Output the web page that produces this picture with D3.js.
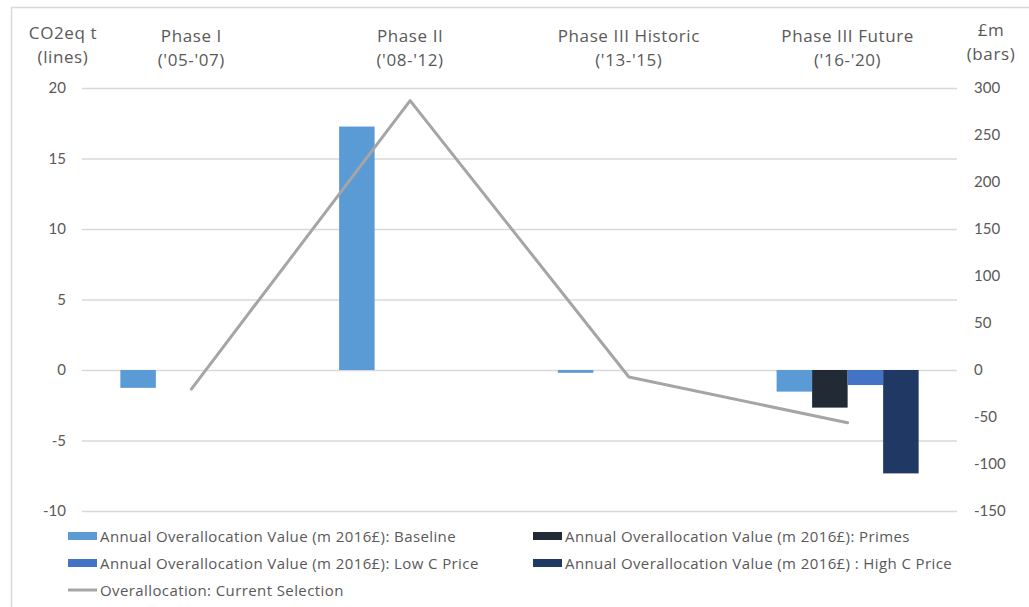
<!DOCTYPE html>
<html>
<head>
<meta charset="utf-8">
<script src="https://cdn.jsdelivr.net/npm/d3@7"></script>
<style>
  html, body { margin: 0; padding: 0; background: #fff; }
  svg text { font-family: "Open Sans", Lato, sans-serif; fill: #595959; }
</style>
</head>
<body>
<svg id="chart" width="1029" height="607"></svg>
<script>
// ---- data ----
const categories = ["Phase I", "Phase II", "Phase III Historic", "Phase III Future"];
const categoryPeriods = ["('05-'07)", "('08-'12)", "('13-'15)", "('16-'20)"];
const seriesNames = [
  "Annual Overallocation Value (m 2016£): Baseline",
  "Annual Overallocation Value (m 2016£): Primes",
  "Annual Overallocation Value (m 2016£): Low C Price",
  "Annual Overallocation Value (m 2016£) : High C Price"
];
const baselineValues = [-19, 259, -3, -23];
const primesValues = [null, null, null, -40];
const lowCValues = [null, null, null, -16];
const highCValues = [null, null, null, -110];
const lineName = "Overallocation: Current Selection";
const lineValues = [-1.35, 19.1, -0.5, -3.74];
const leftTicks = [-10, -5, 0, 5, 10, 15, 20];
const rightTicks = [-150, -100, -50, 0, 50, 100, 150, 200, 250, 300];
const seriesColors = ["#5b9bd5", "#222a35", "#4472c4", "#203864"];
const lineColor = "#a5a5a5";

const barSeries = [baselineValues, primesValues, lowCValues, highCValues];

const svg = d3.select("#chart");

// frame
svg.append("path")
  .attr("d", "M11.5,607 L11.5,7.5 L1029,7.5")
  .attr("fill", "none").attr("stroke", "#d9d9d9").attr("stroke-width", 1.5);

const plotL = 82, plotR = 957, plotT = 88, plotB = 511;

const x = d3.scaleBand().domain(categories).range([plotL, plotR]).paddingInner(0).paddingOuter(0);
const xs = d3.scaleBand().domain(d3.range(seriesNames.length)).range([0, x.bandwidth()]).paddingInner(0).paddingOuter(1.08);
const yL = d3.scaleLinear().domain([-10, 20]).range([plotB, plotT]);
const yR = d3.scaleLinear().domain([-150, 300]).range([plotB, plotT]);

// gridlines
svg.append("g")
  .attr("transform", `translate(${plotL},0)`)
  .call(d3.axisLeft(yL).tickValues(leftTicks).tickSize(-(plotR - plotL)).tickFormat(""))
  .call(g => g.select(".domain").remove())
  .call(g => g.selectAll("line").attr("stroke", "#d9d9d9").attr("stroke-width", 1.3));

// left axis labels
svg.append("g")
  .attr("transform", `translate(66,0)`)
  .call(d3.axisLeft(yL).tickValues(leftTicks).tickSize(0).tickPadding(0).tickFormat(d => String(d)))
  .call(g => g.select(".domain").remove())
  .call(g => g.selectAll("text").style("font-size", "15px").style("font-family", "Lato, sans-serif").attr("fill", "#595959"));

// right axis labels
svg.append("g")
  .attr("transform", `translate(974,0)`)
  .call(d3.axisRight(yR).tickValues(rightTicks).tickSize(0).tickPadding(0).tickFormat(d => String(d)))
  .call(g => g.select(".domain").remove())
  .call(g => g.selectAll("text").style("font-size", "15px").style("font-family", "Lato, sans-serif").attr("fill", "#595959"));

// bars
barSeries.forEach((vals, si) => {
  svg.append("g").selectAll("rect")
    .data(vals.map((v, i) => ({v, c: categories[i]})).filter(d => d.v !== null))
    .join("rect")
    .attr("x", d => x(d.c) + xs(si))
    .attr("width", xs.bandwidth())
    .attr("y", d => Math.min(yR(d.v), yR(0)))
    .attr("height", d => Math.abs(yR(d.v) - yR(0)))
    .attr("fill", seriesColors[si]);
});

// line
const line = d3.line()
  .x((d, i) => x(categories[i]) + x.bandwidth() / 2)
  .y(d => yL(d));
svg.append("path")
  .datum(lineValues)
  .attr("d", line)
  .attr("fill", "none")
  .attr("stroke", lineColor)
  .attr("stroke-width", 3)
  .attr("stroke-linejoin", "round")
  .attr("stroke-linecap", "round");

// category headers
const hdr = svg.append("g");
const hdrStyle = sel => sel.style("font-size", "17px").style("letter-spacing", "0.6px");
categories.forEach((c, i) => {
  const cx = x(c) + x.bandwidth() / 2;
  hdr.append("text").attr("x", cx).attr("y", 42).attr("text-anchor", "middle").call(hdrStyle).text(c);
  hdr.append("text").attr("x", cx).attr("y", 66).attr("text-anchor", "middle").call(hdrStyle).text(categoryPeriods[i]);
});
// axis titles
hdr.append("text").attr("x", 63).attr("y", 39).attr("text-anchor", "middle").call(hdrStyle).text("CO2eq t");
hdr.append("text").attr("x", 63).attr("y", 63).attr("text-anchor", "middle").call(hdrStyle).text("(lines)");
hdr.append("text").attr("x", 991).attr("y", 36).attr("text-anchor", "middle").call(hdrStyle).text("£m");
hdr.append("text").attr("x", 991).attr("y", 60).attr("text-anchor", "middle").call(hdrStyle).text("(bars)");

// legend
const legend = svg.append("g");
const legStyle = sel => sel.style("font-size", "15px").style("letter-spacing", "0.4px");
const legPos = [[68, 536], [533, 536], [68, 563], [533, 563]];
seriesNames.forEach((n, i) => {
  const [lx, ly] = legPos[i];
  legend.append("rect").attr("x", lx).attr("y", ly - 4).attr("width", 29).attr("height", 8).attr("fill", seriesColors[i]);
  legend.append("text").attr("x", lx + 32).attr("y", ly + 5.5).call(legStyle).text(n);
});
legend.append("line").attr("x1", 68).attr("x2", 97).attr("y1", 590).attr("y2", 590)
  .attr("stroke", lineColor).attr("stroke-width", 3);
legend.append("text").attr("x", 100).attr("y", 595.5).call(legStyle).text(lineName);
</script>
</body>
</html>
